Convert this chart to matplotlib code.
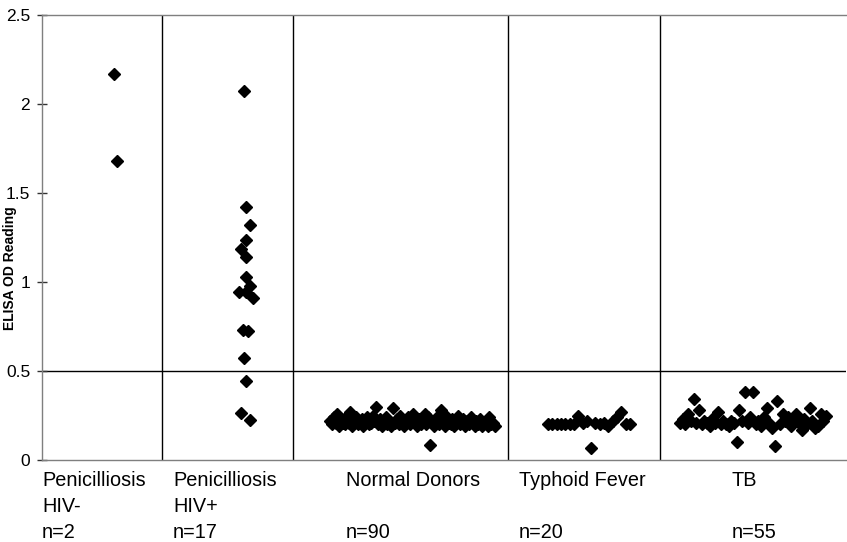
import matplotlib
matplotlib.use("Agg")
import matplotlib.pyplot as plt
import numpy as np

plt.rcParams['font.family'] = ['Liberation Sans', 'DejaVu Sans']

# ---------------- data ----------------
categories_line1 = ["Penicilliosis", "Penicilliosis", "Normal Donors", "Typhoid Fever", "TB"]
categories_line2 = ["HIV-", "HIV+", "", "", ""]
counts = ["n=2", "n=17", "n=90", "n=20", "n=55"]

hiv_neg = [2.17, 1.68]
hiv_pos = [2.073, 1.421, 1.32, 1.236, 1.185, 1.14, 1.028, 0.978, 0.943, 0.943,
           0.91, 0.730, 0.724, 0.573, 0.443, 0.264, 0.225]
normal = [0.22, 0.20, 0.24, 0.21, 0.26, 0.19, 0.23, 0.21, 0.20, 0.25,
          0.21, 0.27, 0.19, 0.22, 0.24, 0.20, 0.21, 0.23, 0.19, 0.22,
          0.24, 0.20, 0.21, 0.25, 0.22, 0.30, 0.20, 0.23, 0.19, 0.21,
          0.24, 0.20, 0.22, 0.19, 0.29, 0.21, 0.23, 0.20, 0.25, 0.22,
          0.19, 0.21, 0.24, 0.20, 0.22, 0.26, 0.21, 0.19, 0.23, 0.20,
          0.22, 0.26, 0.20, 0.24, 0.085, 0.21, 0.19, 0.23, 0.25, 0.20,
          0.28, 0.22, 0.19, 0.24, 0.21, 0.20, 0.23, 0.19, 0.22, 0.25,
          0.20, 0.21, 0.23, 0.19, 0.22, 0.20, 0.24, 0.21, 0.19, 0.22,
          0.20, 0.23, 0.19, 0.21, 0.22, 0.19, 0.24, 0.20, 0.21, 0.19]
typhoid = [0.20, 0.20, 0.20, 0.20, 0.20, 0.20, 0.20, 0.25, 0.21, 0.22,
           0.07, 0.21, 0.20, 0.21, 0.19, 0.22, 0.24, 0.27, 0.20, 0.20]
tb = [0.21, 0.23, 0.20, 0.26, 0.22, 0.34, 0.21, 0.28, 0.20, 0.22,
      0.21, 0.19, 0.23, 0.21, 0.27, 0.20, 0.22, 0.20, 0.19, 0.22,
      0.21, 0.10, 0.28, 0.22, 0.38, 0.21, 0.24, 0.38, 0.20, 0.22,
      0.19, 0.24, 0.29, 0.21, 0.18, 0.08, 0.33, 0.20, 0.26, 0.22,
      0.24, 0.19, 0.24, 0.26, 0.21, 0.17, 0.23, 0.20, 0.29, 0.22,
      0.18, 0.19, 0.26, 0.22, 0.25]

# horizontal jitter (small groups)
hiv_neg_jitter = [114, 117]
hiv_pos_jitter = [244, 246, 250, 246, 241, 246, 246, 250, 239, 246,
                  253, 243, 248, 244, 246, 241, 250]

yticks = [0, 0.5, 1, 1.5, 2, 2.5]
ytick_labels = ["0", "0.5", "1", "1.5", "2", "2.5"]
cutoff = 0.5

# ---------------- layout ----------------
W, H = 847, 542
fig = plt.figure(figsize=(W / 100, H / 100), dpi=100)
ax_left, ax_right, ax_top, ax_bot = 42, 846, 15, 460
ax = fig.add_axes([ax_left / W, 1 - ax_bot / H, (ax_right - ax_left) / W, (ax_bot - ax_top) / H])
ax.set_xlim(ax_left, ax_right)
ax.set_ylim(0, 2.5)

group_edges = [162, 293, 508, 660]
spans = {"normal": (330, 495), "typhoid": (548, 630), "tb": (680, 826)}

mk = dict(marker="D", color="black", ms=5.8, ls="none", mec="black", clip_on=False)
ax.plot(hiv_neg_jitter, hiv_neg, **mk)
ax.plot(hiv_pos_jitter, hiv_pos, **mk)
ax.plot(np.linspace(*spans["normal"], len(normal)), normal, **mk)
ax.plot(np.linspace(*spans["typhoid"], len(typhoid)), typhoid, **mk)
ax.plot(np.linspace(*spans["tb"], len(tb)), tb, **mk)

for xe in group_edges:
    ax.axvline(xe, color="black", lw=1.0, zorder=1)
ax.axhline(cutoff, color="black", lw=1.0, zorder=1)

for side in ["left", "top", "bottom"]:
    ax.spines[side].set_color("#7f7f7f")
    ax.spines[side].set_linewidth(1.0)
    ax.spines[side].set_linestyle((0, (3, 1)))
ax.spines["right"].set_visible(False)

ax.set_xticks([])
ax.set_yticks(yticks)
ax.set_yticklabels(ytick_labels, fontsize=12.5)
ax.tick_params(axis="y", direction="inout", length=7, width=1, color="#333333", pad=5)

# y-axis title placed by hand, just left of the tick labels
fig.text(10 / W, 1 - 268 / H, "ELISA OD Reading", rotation=90, ha="center", va="center",
         fontsize=10, fontweight="bold")

label_x = [42, 173, 346, 519, 732]
row_y = [480, 507, 533]
for lx, l1, l2, n in zip(label_x, categories_line1, categories_line2, counts):
    for txt, ry in zip([l1, l2, n], row_y):
        if txt:
            fig.text(lx / W, 1 - ry / H, txt, ha="left", va="center", fontsize=14.3)

fig.savefig("out.png", dpi=100)
